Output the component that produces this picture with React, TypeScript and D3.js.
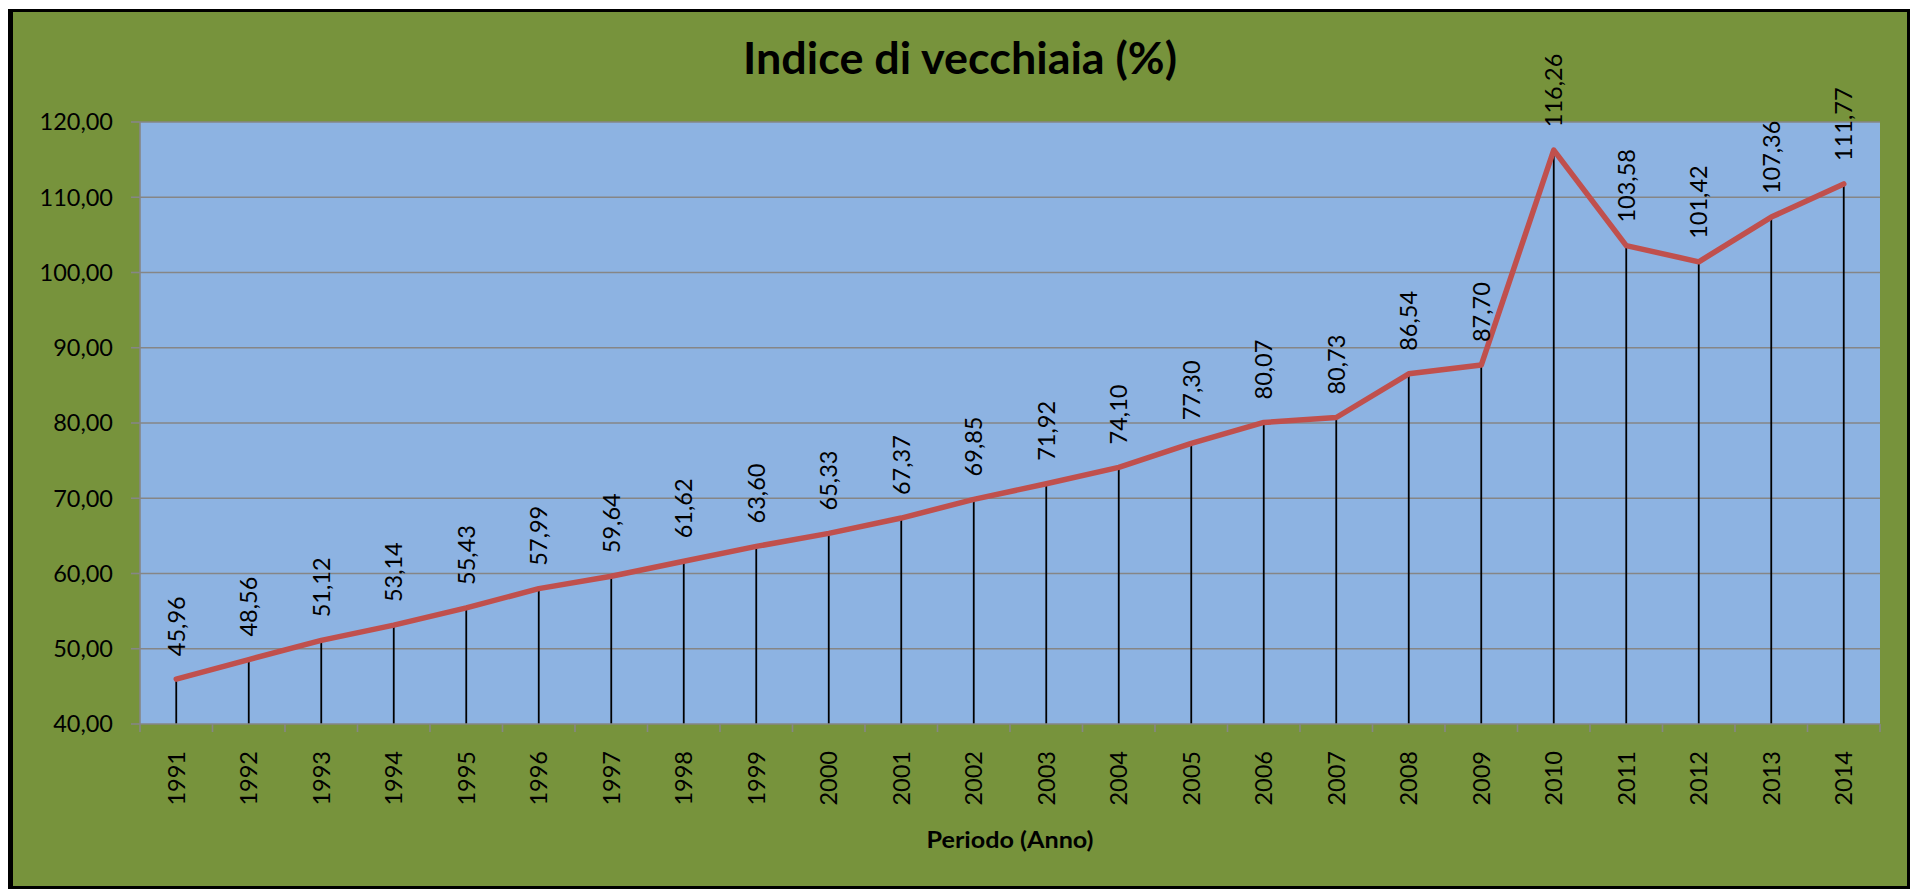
import React, { useEffect, useRef } from "react";
import * as d3 from "d3";

const years = [
  "1991", "1992", "1993", "1994", "1995", "1996", "1997", "1998",
  "1999", "2000", "2001", "2002", "2003", "2004", "2005", "2006",
  "2007", "2008", "2009", "2010", "2011", "2012", "2013", "2014",
];
const indice = [
  45.96, 48.56, 51.12, 53.14, 55.43, 57.99, 59.64, 61.62,
  63.6, 65.33, 67.37, 69.85, 71.92, 74.1, 77.3, 80.07,
  80.73, 86.54, 87.7, 116.26, 103.58, 101.42, 107.36, 111.77,
];
const yTicks = [40, 50, 60, 70, 80, 90, 100, 110, 120];

const title = "Indice di vecchiaia (%)";
const xTitle = "Periodo (Anno)";

const fmt = (v: number) => v.toFixed(2).replace(".", ",");

export default function App() {
  const ref = useRef<SVGSVGElement>(null);

  useEffect(() => {
    const W = 1910,
      H = 889;
    const plot = { left: 140, right: 1880, top: 122, bottom: 724 };
    const font = "Lato, 'Open Sans', sans-serif";
    const fs = 23.5;

    const svg = d3.select(ref.current);
    svg.selectAll("*").remove();

    // frame
    svg.append("rect").attr("x", 8).attr("y", 9).attr("width", W - 8).attr("height", H - 9).attr("fill", "#000");
    svg.append("rect").attr("x", 13).attr("y", 12).attr("width", W - 16).attr("height", H - 15).attr("fill", "#77933C");

    var x = d3.scaleBand().domain(years).range([plot.left, plot.right]).padding(0);
    var y = d3.scaleLinear().domain([40, 120]).range([plot.bottom, plot.top]);
    const cx = (d: string) => (x(d) as number) + x.bandwidth() / 2;

    // plot area
    svg
      .append("rect")
      .attr("x", plot.left)
      .attr("y", plot.top)
      .attr("width", plot.right - plot.left)
      .attr("height", plot.bottom - plot.top)
      .attr("fill", "#8DB3E2");

    // gridlines
    svg
      .append("g")
      .selectAll("line")
      .data(yTicks.slice(1))
      .enter()
      .append("line")
      .attr("x1", plot.left)
      .attr("x2", plot.right)
      .attr("y1", (d) => y(d))
      .attr("y2", (d) => y(d))
      .attr("stroke", "#868686")
      .attr("stroke-width", 1.6);

    // y axis
    const gy = svg.append("g");
    gy.append("line")
      .attr("x1", plot.left).attr("x2", plot.left)
      .attr("y1", plot.top).attr("y2", plot.bottom)
      .attr("stroke", "#868686").attr("stroke-width", 1.6);
    gy.selectAll("line.tick")
      .data(yTicks)
      .enter()
      .append("line")
      .attr("class", "tick")
      .attr("x1", plot.left - 9)
      .attr("x2", plot.left)
      .attr("y1", (d) => y(d))
      .attr("y2", (d) => y(d))
      .attr("stroke", "#868686")
      .attr("stroke-width", 1.6);
    gy.selectAll("text")
      .data(yTicks)
      .enter()
      .append("text")
      .attr("x", 113)
      .attr("y", (d) => y(d))
      .attr("dy", "0.36em")
      .attr("text-anchor", "end")
      .attr("font-family", font)
      .attr("font-size", fs)
      .attr("fill", "#000")
      .text((d) => fmt(d));

    // drop lines
    svg
      .append("g")
      .selectAll("line")
      .data(indice)
      .enter()
      .append("line")
      .attr("x1", (d, i) => cx(years[i]))
      .attr("x2", (d, i) => cx(years[i]))
      .attr("y1", (d) => y(d))
      .attr("y2", plot.bottom)
      .attr("stroke", "#000")
      .attr("stroke-width", 1.8);

    // x axis
    const gx = svg.append("g");
    gx.append("line")
      .attr("x1", plot.left).attr("x2", plot.right)
      .attr("y1", plot.bottom).attr("y2", plot.bottom)
      .attr("stroke", "#868686").attr("stroke-width", 1.6);
    const bounds = years.map((d) => x(d) as number).concat([plot.right]);
    gx.selectAll("line.tick")
      .data(bounds)
      .enter()
      .append("line")
      .attr("class", "tick")
      .attr("x1", (d) => d)
      .attr("x2", (d) => d)
      .attr("y1", plot.bottom)
      .attr("y2", plot.bottom + 8)
      .attr("stroke", "#868686")
      .attr("stroke-width", 1.6);
    gx.selectAll("text")
      .data(years)
      .enter()
      .append("text")
      .attr("transform", (d) => "translate(" + cx(d) + "," + 751 + ") rotate(-90)")
      .attr("dy", "0.36em")
      .attr("text-anchor", "end")
      .attr("font-family", font)
      .attr("font-size", fs)
      .attr("fill", "#000")
      .text((d) => d);

    // the line
    svg
      .append("path")
      .datum(indice)
      .attr("fill", "none")
      .attr("stroke", "#C0504D")
      .attr("stroke-width", 5.5)
      .attr("stroke-linejoin", "round")
      .attr("stroke-linecap", "round")
      .attr(
        "d",
        d3
          .line<number>()
          .x((d, i) => cx(years[i]))
          .y((d) => y(d))
      );

    // data labels
    svg
      .append("g")
      .selectAll("text")
      .data(indice)
      .enter()
      .append("text")
      .attr("transform", (d, i) => "translate(" + cx(years[i]) + "," + (y(d) - 23) + ") rotate(-90)")
      .attr("dy", "0.36em")
      .attr("text-anchor", "start")
      .attr("font-family", font)
      .attr("font-size", fs)
      .attr("fill", "#000")
      .text((d) => fmt(d));

    // titles
    svg
      .append("text")
      .attr("x", 960)
      .attr("y", 74)
      .attr("text-anchor", "middle")
      .attr("font-family", font)
      .attr("font-weight", "bold")
      .attr("font-size", 44)
      .attr("textLength", 434)
      .attr("lengthAdjust", "spacingAndGlyphs")
      .text(title);
    svg
      .append("text")
      .attr("x", (plot.left + plot.right) / 2)
      .attr("y", 848)
      .attr("text-anchor", "middle")
      .attr("font-family", font)
      .attr("font-weight", "bold")
      .attr("font-size", 23)
      .attr("textLength", 167)
      .attr("lengthAdjust", "spacingAndGlyphs")
      .text(xTitle);
  }, []);

  return (
    <svg
      ref={ref}
      width={1910}
      height={889}
      style={{ position: "absolute", left: 0, top: 0, display: "block" }}
    />
  );
}
